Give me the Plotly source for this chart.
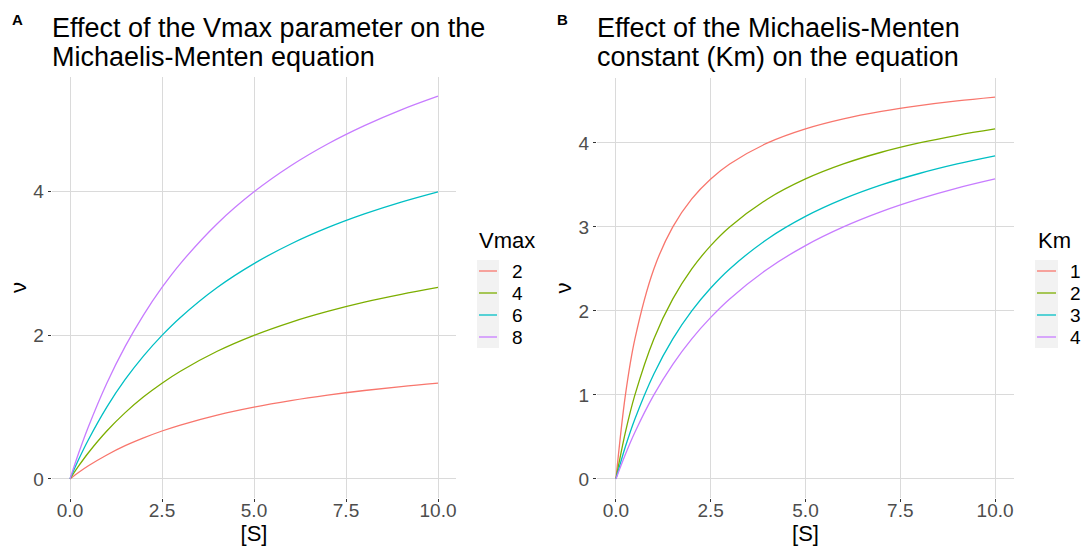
import plotly.graph_objects as go

# Substrate concentration grid
S = [0, 0.25, 0.5, 1, 1.5, 2, 2.5, 3, 4, 5, 6, 7, 8, 9, 10]

# Panel A: effect of Vmax (Km fixed)
vmax_labels = ["2", "4", "6", "8"]
v_vmax2 = [0, 0.095, 0.182, 0.333, 0.462, 0.571, 0.667, 0.750, 0.889, 1.000, 1.091, 1.167, 1.231, 1.286, 1.333]
v_vmax4 = [0, 0.190, 0.364, 0.667, 0.923, 1.143, 1.333, 1.500, 1.778, 2.000, 2.182, 2.333, 2.462, 2.571, 2.667]
v_vmax6 = [0, 0.286, 0.545, 1.000, 1.385, 1.714, 2.000, 2.250, 2.667, 3.000, 3.273, 3.500, 3.692, 3.857, 4.000]
v_vmax8 = [0, 0.381, 0.727, 1.333, 1.846, 2.286, 2.667, 3.000, 3.556, 4.000, 4.364, 4.667, 4.923, 5.143, 5.333]

# Panel B: effect of Km (Vmax fixed)
km_labels = ["1", "2", "3", "4"]
v_km1 = [0, 1.000, 1.667, 2.500, 3.000, 3.333, 3.571, 3.750, 4.000, 4.167, 4.286, 4.375, 4.444, 4.500, 4.545]
v_km2 = [0, 0.556, 1.000, 1.667, 2.143, 2.500, 2.778, 3.000, 3.333, 3.571, 3.750, 3.889, 4.000, 4.091, 4.167]
v_km3 = [0, 0.385, 0.714, 1.250, 1.667, 2.000, 2.273, 2.500, 2.857, 3.125, 3.333, 3.500, 3.636, 3.750, 3.846]
v_km4 = [0, 0.294, 0.556, 1.000, 1.364, 1.667, 1.923, 2.143, 2.500, 2.778, 3.000, 3.182, 3.333, 3.462, 3.571]

x_ticks = [0, 2.5, 5, 7.5, 10]
x_ticktext = ["0.0", "2.5", "5.0", "7.5", "10.0"]

colors = ["#F8766D", "#7CAE00", "#00BFC4", "#C77CFF"]

W, H = 1083, 546
FONT = "Liberation Sans, Arial, sans-serif"

fig = go.Figure()

for lab, ys, c in zip(vmax_labels, [v_vmax2, v_vmax4, v_vmax6, v_vmax8], colors):
    fig.add_trace(go.Scatter(x=S, y=ys, mode="lines", name=lab, line=dict(color=c, width=1.3, shape="spline"),
                             xaxis="x", yaxis="y", showlegend=False))
for lab, ys, c in zip(km_labels, [v_km1, v_km2, v_km3, v_km4], colors):
    fig.add_trace(go.Scatter(x=S, y=ys, mode="lines", name=lab, line=dict(color=c, width=1.3, shape="spline"),
                             xaxis="x2", yaxis="y2", showlegend=False))

def px(x):
    return x / W

def py(y):
    return 1 - y / H

axis_common = dict(
    showline=False, zeroline=False, showgrid=True, gridcolor="#DADADA", gridwidth=1,
    ticks="outside", ticklen=3, tickcolor="#333333", tickwidth=1,
    tickfont=dict(family=FONT, size=19, color="#4D4D4D"),
)

fig.update_layout(
    width=W, height=H,
    margin=dict(l=0, r=0, t=0, b=0),
    paper_bgcolor="white", plot_bgcolor="white",
    font=dict(family=FONT, color="black"),
    showlegend=False,
    xaxis=dict(domain=[px(51.6), px(456.4)], range=[-0.5, 10.5], tickvals=x_ticks, ticktext=x_ticktext,
               anchor="y", ticklabelstandoff=-8,
               title=dict(text="[S]", font=dict(size=22, family=FONT), standoff=6), **axis_common),
    yaxis=dict(domain=[py(498), py(77)], range=[-0.2667, 5.6], tickvals=[0, 2, 4], ticktext=["0", "2", "4"],
               anchor="x", ticklabelstandoff=0,
               title=dict(text="ν", font=dict(size=22, family=FONT), standoff=0), **axis_common),
    xaxis2=dict(domain=[px(597), px(1014)], range=[-0.5, 10.5], tickvals=x_ticks, ticktext=x_ticktext,
                anchor="y2", ticklabelstandoff=-8,
                title=dict(text="[S]", font=dict(size=22, family=FONT), standoff=6), **axis_common),
    yaxis2=dict(domain=[py(498), py(78)], range=[-0.2273, 4.773], tickvals=[0, 1, 2, 3, 4],
                ticktext=["0", "1", "2", "3", "4"], anchor="x2", ticklabelstandoff=0,
                title=dict(text="ν", font=dict(size=22, family=FONT), standoff=0), **axis_common),
)

# Legends (drawn as guide elements: title, key background, key lines, labels)
legends = [
    dict(title="Vmax", labels=vmax_labels, tx=477, bx0=477, bx1=499, lx0=479, lx1=497, labx=510),
    dict(title="Km", labels=km_labels, tx=1036, bx0=1035, bx1=1058, lx0=1037, lx1=1056, labx=1068),
]
TITLE_Y, KEY_TOP, KEY_BOT, FIRST_Y, STEP = 240, 260, 348, 271, 22
for lg in legends:
    fig.add_annotation(text=lg["title"], x=px(lg["tx"]), y=py(TITLE_Y), xref="paper", yref="paper",
                       xanchor="left", yanchor="middle", showarrow=False,
                       font=dict(size=22, family=FONT, color="black"))
    fig.add_shape(type="rect", xref="paper", yref="paper", x0=px(lg["bx0"]), x1=px(lg["bx1"]),
                  y0=py(KEY_BOT), y1=py(KEY_TOP), fillcolor="#F2F2F2", line=dict(width=0), layer="below")
    for i, (lab, c) in enumerate(zip(lg["labels"], colors)):
        yy = FIRST_Y + i * STEP
        fig.add_shape(type="line", xref="paper", yref="paper", x0=px(lg["lx0"]), x1=px(lg["lx1"]),
                      y0=py(yy), y1=py(yy), line=dict(color=c, width=1.3))
        fig.add_annotation(text=lab, x=px(lg["labx"]), y=py(yy), xref="paper", yref="paper",
                           xanchor="left", yanchor="middle", showarrow=False,
                           font=dict(size=19, family=FONT, color="black"))

ann = [
    dict(text="<b>A</b>", x=px(10), y=py(20), size=15),
    dict(text="Effect of the Vmax parameter on the", x=px(50), y=py(28), size=27),
    dict(text="Michaelis-Menten equation", x=px(50), y=py(57), size=27),
    dict(text="<b>B</b>", x=px(555), y=py(20), size=15),
    dict(text="Effect of the Michaelis-Menten", x=px(595), y=py(28), size=27),
    dict(text="constant (Km) on the equation", x=px(595), y=py(57), size=27),
]
for a in ann:
    fig.add_annotation(text=a["text"], x=a["x"], y=a["y"], xref="paper", yref="paper",
                       xanchor="left", yanchor="middle", showarrow=False, align="left",
                       font=dict(size=a["size"], family=FONT, color="black"))

fig.write_html("out.html")
